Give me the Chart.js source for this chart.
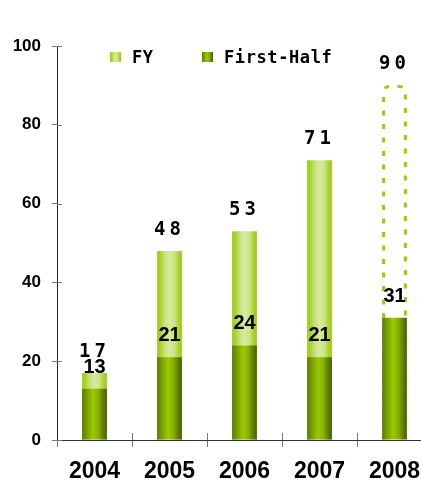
<!DOCTYPE html>
<html>
<head>
<meta charset="utf-8">
<script src="https://cdn.jsdelivr.net/npm/chart.js@4.4.0/dist/chart.umd.min.js"></script>
<style>
  html, body { margin: 0; padding: 0; background: #fff; overflow: hidden; }
  #wrap { width: 440px; height: 490px; }
</style>
</head>
<body>
<div id="wrap"><canvas id="c" width="440" height="490"></canvas></div>
<script>
// Annual totals and first-half results
const years = ['2004', '2005', '2006', '2007', '2008'];
const fullYear = [17, 48, 53, 71, 90];
const firstHalf = [13, 21, 24, 21, 31];
const fullYearForecast = [false, false, false, false, true];
const yTicks = [0, 20, 40, 60, 80, 100];

const BAR_PCT = 0.33;

// Cylinder-like shading across each bar
const fyStops = [[0, '#99cb0a'], [0.14, '#abd332'], [0.32, '#c9e280'], [0.5, '#d7eaa0'],
                 [0.7, '#cbe383'], [0.86, '#acd335'], [1, '#99cc00']];
const halfStops = [[0, '#5a7d00'], [0.22, '#7ba400'], [0.45, '#9cc900'], [0.65, '#88b200'],
                   [0.85, '#5d7e00'], [1, '#476000']];

function gradient(ctx, x0, x1, stops) {
  const g = ctx.createLinearGradient(x0, 0, x1, 0);
  stops.forEach(([o, c]) => g.addColorStop(o, c));
  return g;
}

function barFill(stops, skip) {
  return (c) => {
    if (skip && skip[c.dataIndex]) return 'rgba(0,0,0,0)';
    const chart = c.chart, xs = chart.scales.x;
    if (!chart.chartArea || !xs || c.type !== 'data') return stops[3][1];
    const cx = xs.getPixelForValue(c.dataIndex);
    const half = (xs.getPixelForValue(1) - xs.getPixelForValue(0)) * BAR_PCT / 2;
    return gradient(chart.ctx, cx - half, cx + half, stops);
  };
}

// Dashed outline for the forecast year, drawn under the first-half bar
const forecastOutline = {
  id: 'forecastOutline',
  afterDatasetDraw(chart, args) {
    if (args.index !== 0) return;
    const ctx = chart.ctx;
    args.meta.data.forEach((el, i) => {
      if (!fullYearForecast[i]) return;
      const { x, y, base, width } = el.getProps(['x', 'y', 'base', 'width'], true);
      const l = x - width / 2 + 1.5, r = x + width / 2 - 1.5, t = y + 1, rad = 6;
      ctx.save();
      ctx.strokeStyle = '#9acd00';
      ctx.lineWidth = 3;
      ctx.setLineDash([5, 8.5]);
      ctx.beginPath();
      ctx.moveTo(l, base);
      ctx.lineTo(l, t + rad);
      ctx.quadraticCurveTo(l, t, l + rad, t);
      ctx.lineTo(r - rad, t);
      ctx.quadraticCurveTo(r, t, r, t + rad);
      ctx.lineTo(r, base);
      ctx.stroke();
      ctx.restore();
    });
  }
};

// Value labels above each bar top
const valueLabels = {
  id: 'valueLabels',
  afterDatasetsDraw(chart) {
    const ctx = chart.ctx;
    ctx.save();
    ctx.fillStyle = '#000';
    ctx.textAlign = 'center';
    ctx.textBaseline = 'alphabetic';
    chart.data.datasets.forEach((ds, di) => {
      const meta = chart.getDatasetMeta(di);
      meta.data.forEach((el, i) => {
        const v = ds.data[i];
        if (di === 0) {
          ctx.font = 'bold 19px "DejaVu Sans Mono"';
          ctx.letterSpacing = '4px';
        } else {
          ctx.font = 'bold 20px "Liberation Sans"';
          ctx.letterSpacing = '0px';
        }
        ctx.fillText(String(v), el.x, el.y - 16);
      });
    });
    ctx.restore();
  }
};

// Short tick stubs on the inner side of both axes
const innerTicks = {
  id: 'innerTicks',
  afterDatasetsDraw(chart) {
    const ctx = chart.ctx, { x: xs, y: ys } = chart.scales, a = chart.chartArea;
    ctx.save();
    ctx.strokeStyle = '#777';
    ctx.lineWidth = 1;
    ctx.beginPath();
    ys.ticks.forEach((t) => {
      const py = Math.round(ys.getPixelForValue(t.value)) + 0.5;
      ctx.moveTo(a.left, py);
      ctx.lineTo(a.left + 5, py);
    });
    for (let i = 1; i < years.length; i++) {
      const px = Math.round(xs.getPixelForValue(i - 0.5)) + 0.5;
      ctx.moveTo(px, a.bottom);
      ctx.lineTo(px, a.bottom - 7);
    }
    ctx.stroke();
    ctx.restore();
  }
};

// Legend drawn inside the plot area
const innerLegend = {
  id: 'innerLegend',
  afterDraw(chart) {
    const ctx = chart.ctx;
    const items = [
      { label: chart.data.datasets[0].label, stops: fyStops, box: 110, text: 132 },
      { label: chart.data.datasets[1].label, stops: halfStops, box: 202, text: 224 }
    ];
    ctx.save();
    items.forEach((it) => {
      ctx.fillStyle = gradient(ctx, it.box, it.box + 11, it.stops);
      ctx.fillRect(it.box, 52, 11, 10);
      ctx.fillStyle = '#000';
      ctx.font = 'bold 17px "DejaVu Sans Mono"';
      ctx.letterSpacing = '0.6px';
      ctx.textBaseline = 'alphabetic';
      ctx.textAlign = 'left';
      ctx.fillText(it.label, it.text, 63);
    });
    ctx.restore();
  }
};

new Chart(document.getElementById('c'), {
  type: 'bar',
  data: {
    labels: years,
    datasets: [
      {
        label: 'FY',
        data: fullYear,
        order: 1,
        backgroundColor: barFill(fyStops, fullYearForecast),
        borderWidth: 0,
        barPercentage: BAR_PCT,
        categoryPercentage: 1,
        grouped: false
      },
      {
        label: 'First-Half',
        data: firstHalf,
        order: 0,
        backgroundColor: barFill(halfStops),
        borderWidth: 0,
        barPercentage: BAR_PCT,
        categoryPercentage: 1,
        grouped: false
      }
    ]
  },
  options: {
    responsive: false,
    animation: false,
    events: [],
    layout: { padding: { top: 46, right: 8, bottom: 0, left: 0 } },
    plugins: { legend: { display: false }, tooltip: { enabled: false } },
    scales: {
      x: {
        offset: true,
        grid: { offset: true, drawOnChartArea: false, drawTicks: true, tickLength: 7, color: '#777' },
        border: { color: '#333', width: 1 },
        ticks: { color: '#000', font: { family: 'Liberation Sans', size: 23, weight: 'bold' }, padding: 11, maxRotation: 0 },
        afterFit(s) { s.height = 50; }
      },
      y: {
        min: yTicks[0],
        max: yTicks[yTicks.length - 1],
        afterBuildTicks(s) { s.ticks = yTicks.map((v) => ({ value: v })); },
        grid: { drawOnChartArea: false, drawTicks: true, tickLength: 5, color: '#777' },
        border: { color: '#222', width: 1 },
        ticks: { color: '#000', font: { family: 'Liberation Sans', size: 17, weight: 'bold' }, padding: 11 },
        afterFit(s) { s.width = 57; }
      }
    }
  },
  plugins: [forecastOutline, valueLabels, innerTicks, innerLegend]
});
</script>
</body>
</html>
